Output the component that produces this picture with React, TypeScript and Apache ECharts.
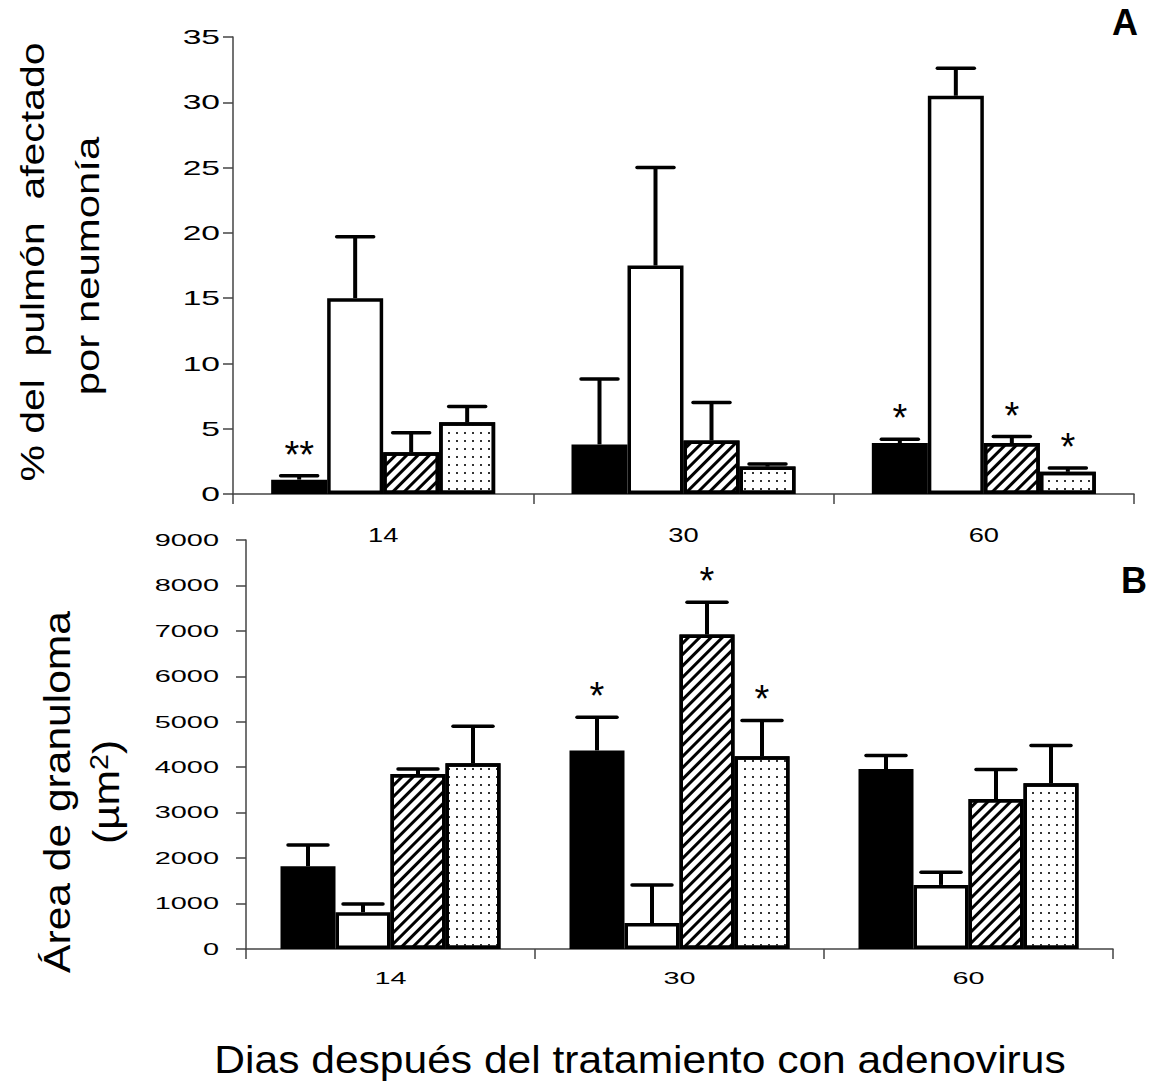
import React, { useEffect, useRef } from 'react';
import * as echarts from 'echarts';

// ---------- data ----------
const days = ['14', '30', '60'];

// Panel A: % del pulmón afectado por neumonía
const pneuBlack = [1.1, 3.8, 3.9];
const pneuWhite = [15.0, 17.5, 30.5];
const pneuHatched = [3.2, 4.1, 3.9];
const pneuDotted = [5.5, 2.1, 1.7];
const pneuErrBlack = [0.3, 5.0, 0.3];
const pneuErrWhite = [4.7, 7.5, 2.1];
const pneuErrHatched = [1.5, 2.9, 0.5];
const pneuErrDotted = [1.2, 0.2, 0.3];
const pneuMarkBlack = ['**', '', '*'];
const pneuMarkWhite = ['', '', ''];
const pneuMarkHatched = ['', '', '*'];
const pneuMarkDotted = ['', '', '*'];
const ticksA = [0, 5, 10, 15, 20, 25, 30, 35];

// Panel B: Área de granuloma (µm²)
const granBlack = [1820, 4370, 3960];
const granWhite = [810, 570, 1410];
const granHatched = [3850, 6920, 3300];
const granDotted = [4090, 4240, 3650];
const granErrBlack = [470, 730, 300];
const granErrWhite = [180, 840, 280];
const granErrHatched = [110, 710, 650];
const granErrDotted = [810, 790, 830];
const granMarkBlack = ['', '*', ''];
const granMarkWhite = ['', '', ''];
const granMarkHatched = ['', '*', ''];
const granMarkDotted = ['', '*', ''];
const ticksB = [0, 1000, 2000, 3000, 4000, 5000, 6000, 7000, 8000, 9000];

// ---------- styles ----------
const FONT = '"Liberation Sans", Arial, Helvetica, sans-serif';
const AXIS_COLOR = '#444';

const hatchDecal = {
  symbol: 'rect',
  symbolSize: 1,
  dashArrayX: [1, 0],
  dashArrayY: [3, 5],
  rotation: -Math.PI / 4,
  color: '#000',
};
const dotDecal = {
  symbol: 'rect',
  symbolSize: 1,
  dashArrayX: [2, 6],
  dashArrayY: [2, 6],
  rotation: 0,
  color: '#333',
};
const groupFills: any[] = [
  { color: '#000' },
  { color: '#fff' },
  { color: '#fff', decal: hatchDecal },
  { color: '#fff', decal: dotDecal },
];

function buildPanel(
  g: number,
  means: number[][],
  errs: number[][],
  marks: string[][],
  barWidth: number,
  capWidth: number
) {
  const series: any[] = means.map((m, s) => ({
    type: 'bar',
    xAxisIndex: g,
    yAxisIndex: g,
    data: m,
    barWidth,
    barGap: '0%',
    silent: true,
    z: 2,
    itemStyle: {
      color: groupFills[s].color,
      decal: groupFills[s].decal,
      borderColor: '#000',
      borderWidth: 3.5,
    },
  }));
  const rows: number[][] = [];
  const meta: { slot: number; mark: string }[] = [];
  means.forEach((m, s) => {
    m.forEach((v, c) => {
      rows.push([c, v, v + errs[s][c]]);
      meta.push({ slot: s, mark: marks[s][c] });
    });
  });
  series.push({
    type: 'custom',
    xAxisIndex: g,
    yAxisIndex: g,
    data: rows,
    encode: { x: 0, y: [1, 2] },
    silent: true,
    clip: false,
    z: 5,
    renderItem: (params: any, api: any) => {
      const info = meta[params.dataIndex];
      const base = api.coord([api.value(0), api.value(1)]);
      const top = api.coord([api.value(0), api.value(2)]);
      const x = base[0] + (info.slot - 1.5) * barWidth;
      const children: any[] = [
        {
          type: 'line',
          shape: { x1: x, y1: base[1], x2: x, y2: top[1] },
          style: { stroke: '#000', lineWidth: 4 },
        },
        {
          type: 'line',
          shape: { x1: x - capWidth / 2, y1: top[1], x2: x + capWidth / 2, y2: top[1] },
          style: { stroke: '#000', lineWidth: 3.5, lineCap: 'round' },
        },
      ];
      if (info.mark) {
        children.push({
          type: 'text',
          x,
          y: top[1] - 21,
          style: {
            text: info.mark,
            fontSize: 38,
            fontFamily: FONT,
            fill: '#000',
            align: 'center',
            verticalAlign: 'middle',
          },
        });
      }
      return { type: 'group', children };
    },
  });
  return series;
}

const axisLineStyle = { color: AXIS_COLOR, width: 1.5 };

export default function App() {
  const ref = useRef<HTMLDivElement>(null);
  useEffect(() => {
    if (!ref.current) return;
    const chart = echarts.init(ref.current, null, { renderer: 'svg', width: 1155, height: 1092 });

    const seriesA = buildPanel(
      0,
      [pneuBlack, pneuWhite, pneuHatched, pneuDotted],
      [pneuErrBlack, pneuErrWhite, pneuErrHatched, pneuErrDotted],
      [pneuMarkBlack, pneuMarkWhite, pneuMarkHatched, pneuMarkDotted],
      56,
      37
    );
    const seriesB = buildPanel(
      1,
      [granBlack, granWhite, granHatched, granDotted],
      [granErrBlack, granErrWhite, granErrHatched, granErrDotted],
      [granMarkBlack, granMarkWhite, granMarkHatched, granMarkDotted],
      55,
      40
    );

    const xAxisBase = {
      type: 'category',
      data: days,
      axisLine: { show: true, lineStyle: axisLineStyle },
      axisTick: { show: true, length: 10, lineStyle: axisLineStyle },
      axisLabel: { show: false },
      splitLine: { show: false },
    };
    const yAxisBase = {
      type: 'value',
      axisLine: { show: true, lineStyle: axisLineStyle },
      axisTick: { show: true, length: 10, lineStyle: axisLineStyle },
      axisLabel: { show: false },
      splitLine: { show: false },
    };

    chart.setOption({
      animation: false,
      backgroundColor: '#fff',
      grid: [
        { left: 233, right: 21, top: 37, bottom: 598 },
        { left: 246, right: 42, top: 540, bottom: 143 },
      ],
      xAxis: [
        { ...xAxisBase, gridIndex: 0 },
        { ...xAxisBase, gridIndex: 1 },
      ],
      yAxis: [
        { ...yAxisBase, gridIndex: 0, min: 0, max: 35, interval: 5 },
        { ...yAxisBase, gridIndex: 1, min: 0, max: 9000, interval: 1000 },
      ],
      series: [...seriesA, ...seriesB],
    });

    // tick labels, placed through the axes' own scales
    const els: any[] = [];
    ticksA.forEach((v) => {
      const y = chart.convertToPixel({ yAxisIndex: 0 } as any, v) as number;
      els.push({
        type: 'text', x: 220, y, scaleX: 1.6,
        style: { text: String(v), fontSize: 21, fontFamily: FONT, fill: '#000', align: 'right', verticalAlign: 'middle' },
      });
    });
    ticksB.forEach((v) => {
      const y = chart.convertToPixel({ yAxisIndex: 1 } as any, v) as number;
      els.push({
        type: 'text', x: 219, y, scaleX: 1.7,
        style: { text: String(v), fontSize: 17, fontFamily: FONT, fill: '#000', align: 'right', verticalAlign: 'middle' },
      });
    });
    days.forEach((d, i) => {
      const xa = chart.convertToPixel({ xAxisIndex: 0 } as any, i) as number;
      els.push({
        type: 'text', x: xa, y: 535, scaleX: 1.3,
        style: { text: d, fontSize: 21, fontFamily: FONT, fill: '#000', align: 'center', verticalAlign: 'middle' },
      });
      const xb = chart.convertToPixel({ xAxisIndex: 1 } as any, i) as number;
      els.push({
        type: 'text', x: xb, y: 979, scaleX: 1.8,
        style: { text: d, fontSize: 16, fontFamily: FONT, fill: '#000', align: 'center', verticalAlign: 'middle' },
      });
    });

    // axis titles and panel letters
    els.push(
      {
        type: 'text', x: 32, y: 262, rotation: Math.PI / 2, scaleX: 1.24,
        style: { text: '% del  pulmón  afectado', fontSize: 33, fontFamily: FONT, fill: '#000', align: 'center', verticalAlign: 'middle' },
      },
      {
        type: 'text', x: 88, y: 266, rotation: Math.PI / 2, scaleX: 1.27,
        style: { text: 'por neumonía', fontSize: 33, fontFamily: FONT, fill: '#000', align: 'center', verticalAlign: 'middle' },
      },
      {
        type: 'text', x: 57, y: 792, rotation: Math.PI / 2, scaleX: 1.15,
        style: { text: 'Área de granuloma', fontSize: 37, fontFamily: FONT, fill: '#000', align: 'center', verticalAlign: 'middle' },
      },
      {
        type: 'text', x: 106, y: 792, rotation: Math.PI / 2, scaleX: 1.15,
        style: {
          text: '(µm{sup|2})', fontSize: 37, fontFamily: FONT, fill: '#000', align: 'center', verticalAlign: 'middle',
          rich: { sup: { fontSize: 25, fontFamily: FONT, fill: '#000', verticalAlign: 'top' } },
        },
      },
      {
        type: 'text', x: 640, y: 1060, scaleX: 1.12,
        style: { text: 'Dias después del tratamiento con adenovirus', fontSize: 38, fontFamily: FONT, fill: '#000', align: 'center', verticalAlign: 'middle' },
      },
      {
        type: 'text', x: 1125, y: 22,
        style: { text: 'A', fontSize: 36, fontWeight: 'bold', fontFamily: FONT, fill: '#000', align: 'center', verticalAlign: 'middle' },
      },
      {
        type: 'text', x: 1134, y: 580,
        style: { text: 'B', fontSize: 36, fontWeight: 'bold', fontFamily: FONT, fill: '#000', align: 'center', verticalAlign: 'middle' },
      }
    );

    chart.setOption({ graphic: { elements: els } });

    return () => chart.dispose();
  }, []);

  return (
    <div
      ref={ref}
      style={{ position: 'absolute', left: 0, top: 0, width: 1155, height: 1092, background: '#fff' }}
    />
  );
}
